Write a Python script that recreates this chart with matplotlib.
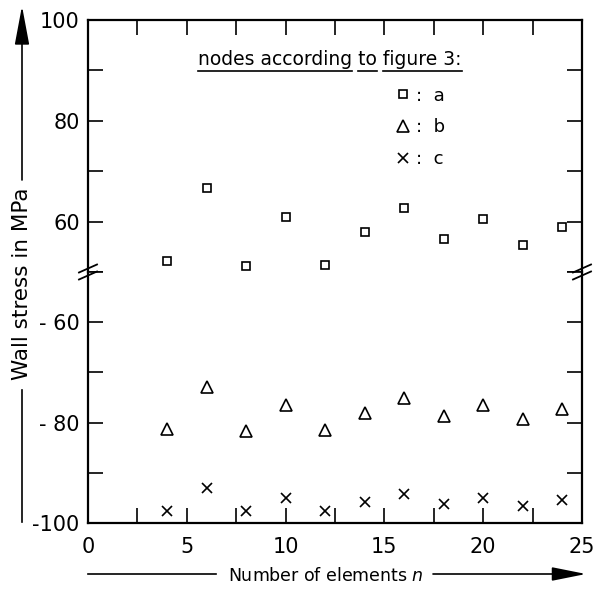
import matplotlib
matplotlib.use('Agg')
import matplotlib.pyplot as plt
from matplotlib.lines import Line2D
from matplotlib.patches import FancyArrowPatch
from matplotlib.ticker import MultipleLocator, FixedLocator

plt.rcParams['font.family'] = ['DejaVu Sans']
plt.rcParams['mathtext.fontset'] = 'dejavusans'

# data
n_elem = [4, 6, 8, 10, 12, 14, 16, 18, 20, 22, 24]
node_a = [52.2, 66.6, 51.2, 61.0, 51.3, 58.0, 62.6, 56.6, 60.6, 55.4, 59.0]
node_b = [-81.2, -73.0, -81.6, -76.4, -81.5, -78.1, -75.0, -78.6, -76.4, -79.3, -77.3]
node_c = [-97.6, -93.0, -97.7, -95.0, -97.7, -95.8, -94.3, -96.3, -95.0, -96.6, -95.5]

upper_ticks = [60, 80, 100]
lower_ticks = [-100, -80, -60]
lower_labels = ['-100', '- 80', '- 60']

W, H = 604, 590
def fx(px):
    return px / W
def fy(py):
    return 1 - py / H

fig = plt.figure(figsize=(W / 100, H / 100), dpi=100)
left, right = 88, 582
top, brk, bottom = 20, 272, 523
ax_top = fig.add_axes([fx(left), fy(brk), (right - left) / W, (brk - top) / H])
ax_bot = fig.add_axes([fx(left), fy(bottom), (right - left) / W, (bottom - brk) / H])

ms = dict(linestyle='none', color='black', markerfacecolor='none', mew=1.2)
ax_top.plot(n_elem, node_a, marker='s', ms=6, **ms)
ax_bot.plot(n_elem, node_b, marker='^', ms=8, **ms)
ax_bot.plot(n_elem, node_c, marker='x', ms=7, **ms)

ax_top.set_ylim(50, 100)
ax_bot.set_ylim(-100, -50)
for ax in (ax_top, ax_bot):
    ax.set_xlim(0, 25)
    ax.xaxis.set_major_locator(MultipleLocator(5))
    ax.xaxis.set_minor_locator(MultipleLocator(2.5))
    ax.yaxis.set_minor_locator(MultipleLocator(10))
    for s in ax.spines.values():
        s.set_linewidth(1.6)
    ax.tick_params(which='both', direction='in', length=11, width=1.2,
                   left=True, right=True, labelsize=15, pad=6)

ax_top.yaxis.set_major_locator(FixedLocator(upper_ticks))
ax_top.set_yticklabels([str(v) for v in upper_ticks])
ax_bot.yaxis.set_major_locator(FixedLocator(lower_ticks))
ax_bot.set_yticklabels(lower_labels)

ax_top.spines['bottom'].set_visible(False)
ax_bot.spines['top'].set_visible(False)
ax_top.tick_params(which='both', top=True, bottom=False, labelbottom=False)
ax_bot.tick_params(which='both', top=False, bottom=True)
ax_bot.tick_params(axis='x', pad=10)

# break marks on both sides
for xp in (left, right):
    for dy in (-3.5, 3.5):
        fig.add_artist(Line2D([fx(xp - 9), fx(xp + 9)],
                              [fy(brk + dy + 4), fy(brk + dy - 4)],
                              color='black', lw=1.3))

# legend
handles = [Line2D([], [], marker='s', ms=6, **ms),
           Line2D([], [], marker='^', ms=8, **ms),
           Line2D([], [], marker='x', ms=7, **ms)]
ax_top.legend(handles, [':  a', ':  b', ':  c'], loc='upper left',
              bbox_to_anchor=((396 - left) / (right - left), 0.735),
              frameon=False, handlelength=0.8, handletextpad=0.3,
              labelspacing=0.75, fontsize=13, borderpad=0, borderaxespad=0)

head = 'nodes according to figure 3:'
tx, ty = 198, 65
fig.text(fx(tx), fy(ty), head, fontsize=13.5, va='baseline')
r = fig.canvas.get_renderer()
def tw(s):
    t = fig.text(0, 0, s, fontsize=13.5)
    w = t.get_window_extent(r).width
    t.remove()
    return w
segs = [(0, tw('nodes according')),
        (tw('nodes according '), tw('nodes according to')),
        (tw('nodes according to '), tw(head))]
for a, b in segs:
    fig.add_artist(Line2D([fx(tx + a), fx(tx + b)], [fy(71), fy(71)],
                          color='black', lw=1.2))

# axis labels with arrows
fig.text(fx(22), fy(284), 'Wall stress in MPa', rotation=90,
         ha='center', va='center', fontsize=15.5)
fig.add_artist(Line2D([fx(22), fx(22)], [fy(390), fy(522)], color='black', lw=1.2))
fig.add_artist(FancyArrowPatch((fx(22), fy(180)), (fx(22), fy(6)),
                               transform=fig.transFigure, color='black', lw=1.2,
                               arrowstyle='-|>,head_length=2.4,head_width=0.45',
                               mutation_scale=10, shrinkA=0, shrinkB=0))

fig.text(fx(326), fy(576), 'Number of elements $n$', ha='center', va='center',
         fontsize=12.5)
fig.add_artist(Line2D([fx(88), fx(216)], [fy(574), fy(574)], color='black', lw=1.2))
fig.add_artist(FancyArrowPatch((fx(433), fy(574)), (fx(586), fy(574)),
                               transform=fig.transFigure, color='black', lw=1.2,
                               arrowstyle='-|>,head_length=2.1,head_width=0.42',
                               mutation_scale=10, shrinkA=0, shrinkB=0))

fig.savefig('out.png', dpi=100)
